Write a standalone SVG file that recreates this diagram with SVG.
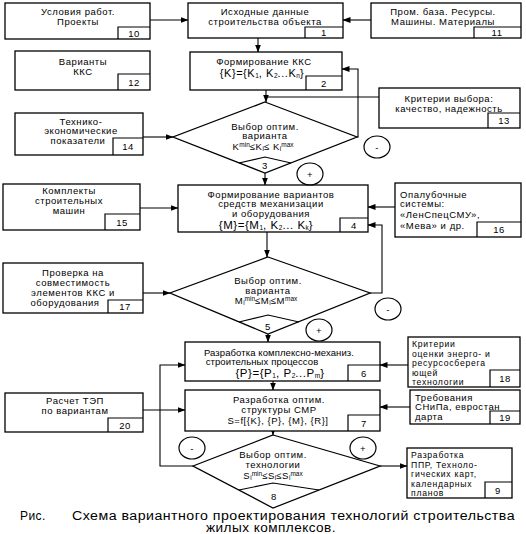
<svg xmlns="http://www.w3.org/2000/svg" width="526" height="534" viewBox="0 0 526 534">
<style>
.b{fill:#fff;stroke:#000;stroke-width:1.3}
.n{fill:none;stroke:#000;stroke-width:1.2}
.l{fill:none;stroke:#000;stroke-width:1.1}
.t{font-family:"Liberation Sans",Arial,sans-serif;font-size:9.5px;fill:#000;letter-spacing:0.55px}
.sm{font-size:8.6px;letter-spacing:0.75px}
.c{text-anchor:middle}
.cap{font-family:"Liberation Sans",Arial,sans-serif;font-size:12px;fill:#000;letter-spacing:0.4px}
.s{font-size:6.5px;letter-spacing:0}
</style>
<defs>
<marker id="a" markerWidth="8" markerHeight="6" refX="7.5" refY="3" orient="auto" markerUnits="userSpaceOnUse">
<path d="M0,0 L8,3 L0,6 Z" fill="#000"/>
</marker>
</defs>
<rect width="526" height="534" fill="#fff"/>

<g id="connectors">
<path class="l" d="M150 20 H188" marker-end="url(#a)"/>
<path class="l" d="M371 20 H343" marker-end="url(#a)"/>
<path class="l" d="M258 38 V52" marker-end="url(#a)"/>
<path class="l" d="M266 90 V102" marker-end="url(#a)"/>
<path class="l" d="M379 97 H266"/>
<path class="l" d="M357 137 H358 V69 H342" marker-end="url(#a)"/>
<path class="l" d="M143 137 H173" marker-end="url(#a)"/>
<path class="l" d="M265 173 V185" marker-end="url(#a)"/>
<path class="l" d="M140 208 H178" marker-end="url(#a)"/>
<path class="l" d="M395 207 H368" marker-end="url(#a)"/>
<path class="l" d="M267 232 V257" marker-end="url(#a)"/>
<path class="l" d="M370 293 H382 V225 H368" marker-end="url(#a)"/>
<path class="l" d="M143 293 H170" marker-end="url(#a)"/>
<path class="l" d="M268 334 V342" marker-end="url(#a)"/>
<path class="l" d="M408 365 H380" marker-end="url(#a)"/>
<path class="l" d="M273 381 V390" marker-end="url(#a)"/>
<path class="l" d="M410 407 H380" marker-end="url(#a)"/>
<path class="l" d="M143 410 H185" marker-end="url(#a)"/>
<path class="l" d="M193 466 H160 V365 H185" marker-end="url(#a)"/>
<path class="l" d="M273 431 V435" marker-end="url(#a)"/>
<path class="l" d="M380 466 H407" marker-end="url(#a)"/>
</g>

<g id="n10">
<rect class="b" x="5" y="3" width="145" height="36"/>
<path class="n" d="M118 39 V27 H150"/>
<text class="t c" x="78" y="15">Условия работ.</text>
<text class="t c" x="78" y="25">Проекты</text>
<text class="t c" x="134" y="36.5">10</text>
</g>

<g id="n1">
<rect class="b" x="188" y="3" width="155" height="35"/>
<path class="n" d="M305 38 V27 H343"/>
<text class="t c" x="265" y="14.5">Исходные данные</text>
<text class="t c" x="265" y="24.5">строительства объекта</text>
<text class="t c" x="324" y="36">1</text>
</g>

<g id="n11">
<rect class="b" x="371" y="3" width="150" height="35"/>
<path class="n" d="M474 38 V27 H521"/>
<text class="t c" x="443" y="14.5">Пром. база. Ресурсы.</text>
<text class="t c" x="443" y="24.5">Машины. Материалы</text>
<text class="t c" x="497" y="36">11</text>
</g>

<g id="n12">
<rect class="b" x="15" y="51" width="135" height="39"/>
<path class="n" d="M118 90 V74 H150"/>
<text class="t c" x="83" y="64.5">Варианты</text>
<text class="t c" x="83" y="74.5">ККС</text>
<text class="t c" x="134" y="85.5">12</text>
</g>

<g id="n2">
<rect class="b" x="190" y="52" width="152" height="38"/>
<path class="n" d="M306 90 V76 H342"/>
<text class="t c" x="264" y="64.5">Формирование ККС</text>
<text class="t c" x="262" y="77" style="font-size:11px">{K}={K<tspan class="s" dy="1">1</tspan><tspan dy="-1">, K</tspan><tspan class="s" dy="1">2</tspan><tspan dy="-1">...K</tspan><tspan class="s" dy="1">n</tspan><tspan dy="-1">}</tspan></text>
<text class="t c" x="324" y="86.5">2</text>
</g>

<g id="n13">
<rect class="b" x="379" y="88" width="141" height="40"/>
<path class="n" d="M488 128 V113 H520"/>
<text class="t c" x="449" y="101.5">Критерии выбора:</text>
<text class="t c" x="449" y="111.5">качество, надежность</text>
<text class="t c" x="504" y="124">13</text>
</g>

<g id="n14">
<rect class="b" x="15" y="113" width="128" height="42"/>
<path class="n" d="M113 155 V138 H143"/>
<text class="t c" x="81" y="124.5">Технико-</text>
<text class="t c" x="81" y="134">экономические</text>
<text class="t c" x="78" y="143.5">показатели</text>
<text class="t c" x="128" y="150">14</text>
</g>

<g id="n3">
<polygon class="b" points="265,102 357,137 265,173 173,137"/>
<polyline class="n" points="239,163 265,157 291,163"/>
<text class="t c" x="265" y="129.5">Выбор оптим.</text>
<text class="t c" x="265" y="139">варианта</text>
<text class="t c" x="263" y="150">K<tspan class="s" dy="-3.5">min</tspan><tspan dy="3.5">≤K</tspan><tspan class="s" dy="1">i</tspan><tspan dy="-1">≤ K</tspan><tspan class="s" dy="1">i</tspan><tspan class="s" dy="-4.5">max</tspan></text>
<text class="t c" x="265" y="168.5">3</text>
</g>

<g id="n15">
<rect class="b" x="3" y="184" width="137" height="46"/>
<path class="n" d="M105 230 V214 H140"/>
<text class="t c" x="69" y="193.5">Комплекты</text>
<text class="t c" x="69" y="203.5">строительных</text>
<text class="t c" x="69" y="213.5">машин</text>
<text class="t c" x="122" y="225.5">15</text>
</g>

<g id="n4">
<rect class="b" x="178" y="185" width="190" height="47"/>
<path class="n" d="M340 232 V218 H368"/>
<text class="t c" x="271" y="197.5">Формирование вариантов</text>
<text class="t c" x="271" y="207">средств механизации</text>
<text class="t c" x="271" y="216.5">и оборудования</text>
<text class="t c" x="266" y="229" style="font-size:11.5px">{M}={M<tspan class="s" dy="1">1</tspan><tspan dy="-1">, K</tspan><tspan class="s" dy="1">2</tspan><tspan dy="-1">... K</tspan><tspan class="s" dy="1">k</tspan><tspan dy="-1">}</tspan></text>
<text class="t c" x="354" y="228.5">4</text>
</g>

<g id="n16">
<rect class="b" x="395" y="183" width="126" height="54"/>
<path class="n" d="M477 237 V222 H521"/>
<text class="t" x="400" y="197.5">Опалубочные</text>
<text class="t" x="400" y="207">системы:</text>
<text class="t" x="400" y="217.5">«ЛенСпецСМУ»,</text>
<text class="t" x="400" y="228.5">«Мева» и др.</text>
<text class="t c" x="499" y="232.5">16</text>
</g>

<g id="n17">
<rect class="b" x="3" y="263" width="140" height="50"/>
<path class="n" d="M108 313 V300 H143"/>
<text class="t c" x="73" y="275.5">Проверка на</text>
<text class="t c" x="73" y="285.5">совместимость</text>
<text class="t c" x="73" y="295.5">элементов ККС и</text>
<text class="t c" x="65" y="305.5">оборудования</text>
<text class="t c" x="125" y="309.5">17</text>
</g>

<g id="n5">
<polygon class="b" points="268,257 370,293 268,334 170,293"/>
<polyline class="n" points="239,322 268,315 299,322"/>
<text class="t c" x="268" y="284">Выбор оптим.</text>
<text class="t c" x="268" y="293.5">варианта</text>
<text class="t c" x="266" y="304">M<tspan class="s" dy="1">i</tspan><tspan class="s" dy="-4.5">min</tspan><tspan dy="3.5">≤M</tspan><tspan class="s" dy="1">i</tspan><tspan dy="-1">≤M</tspan><tspan class="s" dy="-3.5">max</tspan></text>
<text class="t c" x="268" y="329.5">5</text>
</g>

<g id="n6">
<rect class="b" x="185" y="342" width="195" height="39"/>
<path class="n" d="M348 381 V365 H380"/>
<text class="t c" x="279" y="355.5" style="letter-spacing:0.1px">Разработка комплексно-механиз.</text>
<text class="t c" x="262" y="364.5" style="letter-spacing:0.1px">строительных процессов</text>
<text class="t c" x="280" y="376.5" style="font-size:11.5px">{P}={P<tspan class="s" dy="1">1</tspan><tspan dy="-1">, P</tspan><tspan class="s" dy="1">2</tspan><tspan dy="-1">...P</tspan><tspan class="s" dy="1">m</tspan><tspan dy="-1">}</tspan></text>
<text class="t c" x="364" y="376.5">6</text>
</g>

<g id="n18">
<rect class="b" x="408" y="337" width="112" height="50"/>
<path class="n" d="M490 387 V370 H520"/>
<text class="t sm" x="412" y="347">Критерии</text>
<text class="t sm" x="412" y="356.5">оценки энерго- и</text>
<text class="t sm" x="412" y="366">ресурсосберега</text>
<text class="t sm" x="412" y="375.5">ющей</text>
<text class="t sm" x="412" y="385">технологии</text>
<text class="t c" x="505" y="382">18</text>
</g>

<g id="n20">
<rect class="b" x="5" y="393" width="138" height="39"/>
<path class="n" d="M108 432 V418 H143"/>
<text class="t c" x="75" y="404">Расчет ТЭП</text>
<text class="t c" x="75" y="414">по вариантам</text>
<text class="t c" x="125" y="428.5">20</text>
</g>

<g id="n7">
<rect class="b" x="185" y="390" width="195" height="41"/>
<path class="n" d="M348 431 V415 H380"/>
<text class="t c" x="279" y="402.5">Разработка оптим.</text>
<text class="t c" x="279" y="412.5">структуры СМР</text>
<text class="t c" x="278" y="423.5">S=f[{K}, {P}, {M}, {R}]</text>
<text class="t c" x="364" y="426.5">7</text>
</g>

<g id="n19">
<rect class="b" x="410" y="390" width="110" height="34"/>
<path class="n" d="M490 424 V411 H520"/>
<text class="t" x="415" y="400.5">Требования</text>
<text class="t" x="415" y="410">СНиПа, евростан</text>
<text class="t" x="415" y="419.5">дарта</text>
<text class="t c" x="505" y="420.5">19</text>
</g>

<g id="n8">
<polygon class="b" points="273,435 380,466 273,508 193,466"/>
<polyline class="n" points="239,490 273,483 319,490"/>
<text class="t c" x="273" y="458">Выбор оптим.</text>
<text class="t c" x="273" y="468">технологии</text>
<text class="t c" x="273" y="479">S<tspan class="s" dy="1">i</tspan><tspan class="s" dy="-4.5">min</tspan><tspan dy="3.5">≤S</tspan><tspan class="s" dy="1">i</tspan><tspan dy="-1">≤S</tspan><tspan class="s" dy="1">i</tspan><tspan class="s" dy="-4.5">max</tspan></text>
<text class="t c" x="274" y="499.5">8</text>
</g>

<g id="n9">
<rect class="b" x="407" y="448" width="105" height="50"/>
<path class="n" d="M485 498 V482 H512"/>
<text class="t sm" x="411" y="458">Разработка</text>
<text class="t sm" x="411" y="467.5">ППР, Техноло-</text>
<text class="t sm" x="411" y="477">гических карт,</text>
<text class="t sm" x="411" y="486.5">календарных</text>
<text class="t sm" x="411" y="496">планов</text>
<text class="t c" x="498" y="493.5">9</text>
</g>

<g id="signs">
<ellipse class="n" cx="377" cy="147" rx="13" ry="11"/>
<text class="t c" x="377" y="150.5">-</text>
<ellipse class="n" cx="310" cy="174" rx="13" ry="11"/>
<text class="t c" x="310" y="177.5">+</text>
<ellipse class="n" cx="388" cy="309" rx="13" ry="11"/>
<text class="t c" x="388" y="312.5">-</text>
<ellipse class="n" cx="319" cy="330" rx="13" ry="11"/>
<text class="t c" x="319" y="333.5">+</text>
<ellipse class="n" cx="192" cy="448" rx="13" ry="11"/>
<text class="t c" x="192" y="451.5">-</text>
<ellipse class="n" cx="363" cy="448" rx="13" ry="11"/>
<text class="t c" x="363" y="451.5">+</text>
</g>

<g id="caption">
<text class="cap" x="20" y="520">Рис.</text>
<text class="cap" x="72" y="520" textLength="443" lengthAdjust="spacingAndGlyphs">Схема вариантного проектирования технологий строительства</text>
<text class="cap" x="206" y="532" textLength="130" lengthAdjust="spacingAndGlyphs">жилых комплексов.</text>
</g>
</svg>
